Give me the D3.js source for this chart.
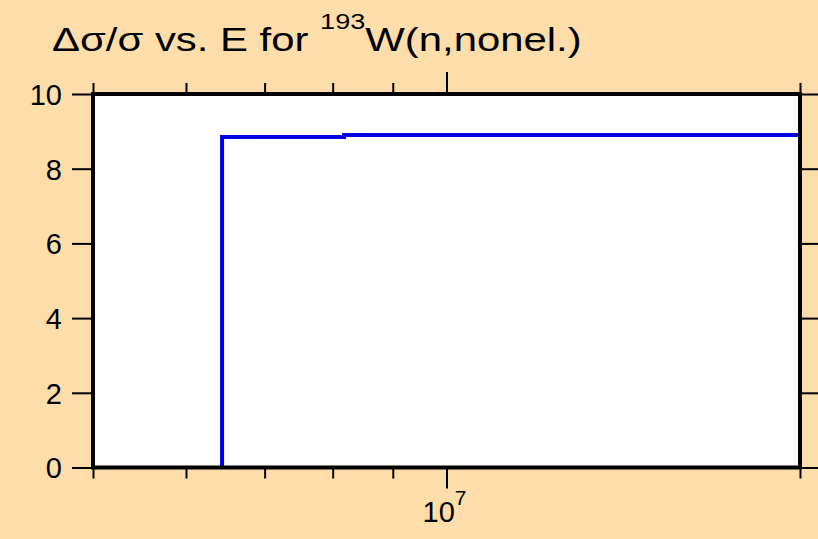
<!DOCTYPE html>
<html>
<head>
<meta charset="utf-8">
<script src="https://cdn.jsdelivr.net/npm/d3@7"></script>
<style>
  html, body { margin: 0; padding: 0; background: #fddeab; }
  svg { display: block; }
  text { font-family: "Liberation Sans", Arial, Helvetica, sans-serif; fill: #000; }
</style>
</head>
<body>
<script>
// ---- data ----
const binEdges = [6.44e6, 8.18e6, 2.0e7];   // energy bin edges (eV)
const binValues = [8.85, 8.90];             // Δσ/σ per bin (%)
const xTicks = [5e6, 6e6, 7e6, 8e6, 9e6, 1e7, 2e7];
const xMajorTicks = [1e7];
const yTicks = [0, 2, 4, 6, 8, 10];
const xDomain = [5e6, 2e7];
const yDomain = [0, 10];

// ---- layout ----
const W = 818, H = 539;
const L = 93, R = 800, T = 94, B = 467.5;

const svg = d3.select("body").append("svg").attr("width", W).attr("height", H);
svg.append("rect").attr("width", W).attr("height", H).attr("fill", "#fddeab");

const x = d3.scaleLog().domain(xDomain).range([L, R]);
const y = d3.scaleLinear().domain(yDomain).range([B, T]);

// plot area
svg.append("rect").attr("x", L).attr("y", T).attr("width", R - L).attr("height", B - T)
  .attr("fill", "#fff");

// step line
const pts = [[binEdges[0], 0]];
binValues.forEach((v, i) => { pts.push([binEdges[i], v]); pts.push([binEdges[i + 1], v]); });
pts.push([binEdges[binEdges.length - 1], 0]);
svg.append("path")
  .datum(pts)
  .attr("d", d3.line().x(d => x(d[0])).y(d => y(d[1])))
  .attr("fill", "none")
  .attr("stroke", "#0000e6")
  .attr("stroke-width", 4)
  .attr("stroke-linejoin", "miter");

// axes ticks
function styleAxis(g) {
  g.select(".domain").remove();
  g.selectAll(".tick line").attr("stroke", "#000").attr("stroke-width", 2);
}
const isMajor = d => xMajorTicks.includes(d);

const xb = svg.append("g").attr("transform", `translate(0,${B})`)
  .call(d3.axisBottom(x).tickValues(xTicks).tickSize(11).tickFormat(""));
styleAxis(xb);
xb.selectAll(".tick line").attr("y2", d => isMajor(d) ? 21 : 11);

const xt = svg.append("g").attr("transform", `translate(0,${T})`)
  .call(d3.axisTop(x).tickValues(xTicks).tickSize(11).tickFormat(""));
styleAxis(xt);
xt.selectAll(".tick line").attr("y2", d => isMajor(d) ? -22 : -11);

const yl = svg.append("g").attr("transform", `translate(${L},0)`)
  .call(d3.axisLeft(y).tickValues(yTicks).tickSize(21).tickPadding(10).tickFormat(d3.format("d")));
styleAxis(yl);
yl.selectAll(".tick text").attr("font-size", 29).attr("dy", "0.36em")
  .attr("font-family", "Liberation Sans, Arial, sans-serif").attr("fill", "#000");

const yr = svg.append("g").attr("transform", `translate(${R},0)`)
  .call(d3.axisRight(y).tickValues(yTicks).tickSize(21).tickFormat(""));
styleAxis(yr);

// x major tick label 10^7
xMajorTicks.forEach(v => {
  const t = svg.append("text").attr("x", x(v) - 2).attr("y", 522)
    .attr("text-anchor", "middle").attr("font-size", 29);
  t.append("tspan").text("10");
  t.append("tspan").attr("font-size", 21).attr("dy", -17).text(Math.round(Math.log10(v)));
});

// frame
svg.append("rect").attr("x", L).attr("y", T).attr("width", R - L).attr("height", B - T)
  .attr("fill", "none").attr("stroke", "#000").attr("stroke-width", 4);

// title (horizontally stretched to match the reference's wide lettering)
const titleX = 52, titleRight = 582;
const tg = svg.append("g");
const title = tg.append("text").attr("x", 0).attr("y", 51).attr("font-size", 34);
title.append("tspan").text("Δσ/σ vs. E for ");
title.append("tspan").attr("font-size", 22).attr("dy", -22).text("193");
title.append("tspan").attr("dy", 22).text("W(n,nonel.)");
const bb = title.node().getBBox();
const sx = (titleRight - titleX) / bb.width;
tg.attr("transform", `translate(${titleX - bb.x * sx},0) scale(${sx},1)`);
</script>
</body>
</html>
